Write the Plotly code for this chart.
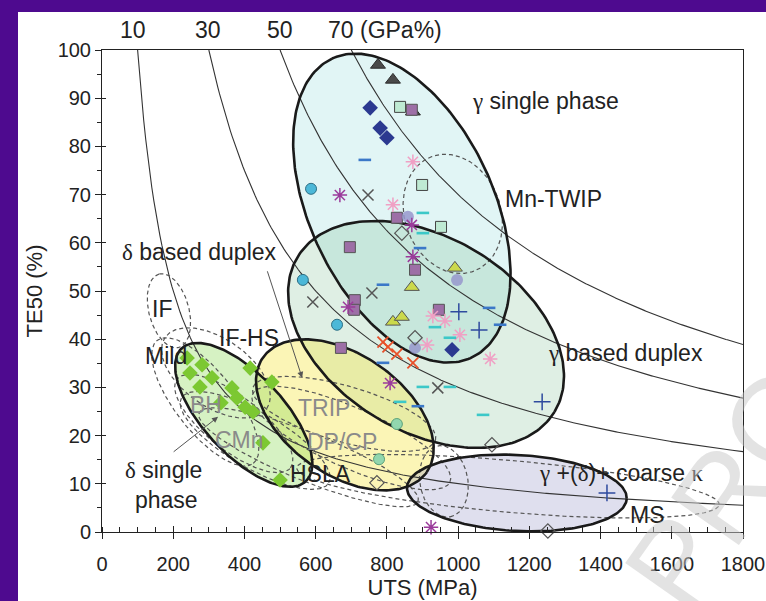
import numpy as np
import plotly.graph_objects as go

# ---------------- data ----------------
X_RANGE = [0, 1800]
Y_RANGE = [0, 100]
x_ticks = [0, 200, 400, 600, 800, 1000, 1200, 1400, 1600, 1800]
y_ticks = [0, 10, 20, 30, 40, 50, 60, 70, 80, 90, 100]
iso_gpa_pct = [10, 30, 50, 70]          # UTS x TE50 = const (GPa%)
iso_labels = ["10", "30", "50", "70 (GPa%)"]

navy_diamond_uts = [753, 781, 800, 983]
navy_diamond_te = [88.0, 83.8, 81.8, 37.8]
dark_tri_uts = [775, 817, 873]
dark_tri_te = [96.9, 93.8, 87.2]
green_sq_uts = [837, 899, 952]
green_sq_te = [88.2, 72.0, 63.3]
purple_sq_uts = [870, 828, 696, 879, 710, 708, 946, 671]
purple_sq_te = [87.6, 65.2, 59.1, 54.4, 48.1, 46.1, 46.1, 38.2]
cyan_circ_uts = [587, 564, 660]
cyan_circ_te = [71.2, 52.3, 43.0]
lav_circ_uts = [859, 997, 879]
lav_circ_te = [65.4, 52.3, 38.2]
green_circ_uts = [828, 778]
green_circ_te = [22.4, 15.1]
yellow_tri_uts = [991, 870, 817, 842]
yellow_tri_te = [54.8, 50.8, 43.6, 44.6]
pink_ast_uts = [873, 817, 929, 963, 1005, 913, 1090]
pink_ast_te = [76.8, 67.9, 44.8, 43.8, 40.9, 38.8, 35.9]
purple_ast_uts = [668, 870, 873, 691, 809, 924]
purple_ast_te = [69.9, 63.7, 57.1, 46.7, 30.9, 1.0]
gray_x_uts = [747, 592, 758, 943]
gray_x_te = [69.9, 47.7, 49.6, 29.9]
red_x_uts = [789, 803, 828, 873]
red_x_te = [39.4, 38.4, 36.9, 35.1]
blue_dash_uts = [738, 893, 789, 1087, 1118, 789, 887]
blue_dash_te = [77.2, 58.9, 51.3, 46.5, 43.0, 35.1, 26.1]
teal_dash_uts = [901, 901, 935, 977, 901, 977, 837, 1070]
teal_dash_te = [66.2, 62.0, 42.5, 40.3, 30.1, 30.1, 27.0, 24.3]
blue_plus_uts = [1002, 1059, 1236, 1418]
blue_plus_te = [45.7, 41.9, 27.0, 8.1]
open_diamond_uts = [842, 879, 1095, 772, 1252]
open_diamond_te = [62.0, 40.3, 18.1, 10.2, 0.2]
green_diamond_uts = [239, 281, 247, 309, 275, 365, 379, 334, 416, 402, 424, 477, 452, 500]
green_diamond_te = [36.1, 34.7, 33.0, 32.0, 30.1, 29.9, 27.8, 26.8, 34.0, 25.9, 24.9, 31.1, 18.5, 10.8]

# ---------------- layout geometry ----------------
W, H = 766, 601
ML, MR, MT, MB = 102, 23, 50, 69
PW, PH = W - ML - MR, H - MT - MB
PX_PER_UTS = PW / (X_RANGE[1] - X_RANGE[0])
PX_PER_TE = PH / (Y_RANGE[1] - Y_RANGE[0])


def ellipse(cx, cy, a, b, theta_deg, n=240):
    """Ellipse centred at data (cx, cy); semi-axes a, b in screen px; rotation in degrees."""
    t = np.linspace(0, 2 * np.pi, n)
    th = np.radians(theta_deg)
    dx = a * np.cos(t) * np.cos(th) - b * np.sin(t) * np.sin(th)
    dy = a * np.cos(t) * np.sin(th) + b * np.sin(t) * np.cos(th)
    return cx + dx / PX_PER_UTS, cy + dy / PX_PER_TE


# filled regions: centre (UTS, TE), a, b (px), angle, fill
regions = [
    ((842, 67.2), 165, 92, 115, "rgba(120,210,210,0.22)"),   # gamma single phase
    ((910, 41.0), 150, 97, -31, "rgba(110,180,130,0.22)"),   # gamma based duplex
    ((682, 24.3), 100, 60, -35, "rgba(245,230,80,0.42)"),    # TRIP / yellow
    ((398, 24.3), 91, 40, -47, "rgba(140,220,90,0.36)"),     # delta single phase
    ((1165, 8.1), 110, 38, -3, "rgba(150,150,200,0.30)"),    # gamma + delta + kappa
]
# dashed conventional steel regions
dashed = [
    ((985, 66.0), 61, 48, 110),     # Mn-TWIP
    ((188, 45.9), 38, 20, 105),     # IF
    ((320, 33.0), 62, 34, -35),     # IF-HS
    ((290, 27.0), 78, 30, -52),     # Mild
    ((370, 22.5), 72, 27, -38),     # BH
    ((430, 19.0), 85, 28, -30),     # CMn
    ((580, 15.5), 118, 24, -22),    # HSLA
    ((680, 24.5), 95, 28, -16),     # TRIP
    ((700, 19.5), 108, 30, -24),    # DP/CP
    ((1140, 9.5), 212, 26, -5),     # MS
    ((960, 10.5), 36, 24, -80),     # small one
]

fig = go.Figure()

for (c, a, b, ang, fill) in regions:
    ex, ey = ellipse(c[0], c[1], a, b, ang)
    fig.add_trace(go.Scatter(x=ex, y=ey, mode="lines", fill="toself", fillcolor=fill,
                             line=dict(width=0), hoverinfo="skip", showlegend=False))

# iso-product lines
for c in iso_gpa_pct:
    ux = np.linspace(c * 10, X_RANGE[1], 300)
    fig.add_trace(go.Scatter(x=ux, y=c * 1000 / ux, mode="lines",
                             line=dict(color="#333333", width=1.1),
                             hoverinfo="skip", showlegend=False))

for (c, a, b, ang) in dashed:
    ex, ey = ellipse(c[0], c[1], a, b, ang)
    fig.add_trace(go.Scatter(x=ex, y=ey, mode="lines",
                             line=dict(color="#555555", width=1.2, dash="4px,3px"),
                             hoverinfo="skip", showlegend=False, cliponaxis=False))

for (c, a, b, ang, fill) in regions:
    ex, ey = ellipse(c[0], c[1], a, b, ang)
    fig.add_trace(go.Scatter(x=ex, y=ey, mode="lines",
                             line=dict(color="#1a1a1a", width=2.6),
                             hoverinfo="skip", showlegend=False, cliponaxis=False))


def pts(xs, ys, symbol, size, color, lcolor, lwidth):
    fig.add_trace(go.Scatter(x=xs, y=ys, mode="markers", cliponaxis=False, showlegend=False,
                             marker=dict(symbol=symbol, size=size, color=color,
                                         line=dict(color=lcolor, width=lwidth))))


pts(green_diamond_uts, green_diamond_te, "diamond", 12, "#7cc832", "#7cc832", 0)
pts(dark_tri_uts, dark_tri_te, "triangle-up", 13, "#4a4a4a", "#2a2a2a", 1)
pts(green_sq_uts, green_sq_te, "square", 11, "#bfead3", "#444444", 1)
pts(purple_sq_uts, purple_sq_te, "square", 11, "#9d6fa6", "#555555", 1)
pts(navy_diamond_uts, navy_diamond_te, "diamond", 12, "#2b3990", "#2b3990", 0)
pts(cyan_circ_uts, cyan_circ_te, "circle", 11, "#4cb8d8", "#2d6f85", 1)
pts(lav_circ_uts, lav_circ_te, "circle", 12, "rgba(150,150,205,0.85)", "rgba(150,150,205,0.85)", 0)
pts(green_circ_uts, green_circ_te, "circle", 11, "#92d6ae", "#5aa27a", 1)
pts(yellow_tri_uts, yellow_tri_te, "triangle-up", 13, "#cbd94c", "#555555", 1)
pts(open_diamond_uts, open_diamond_te, "diamond-open", 11, "#555555", "#555555", 1.2)
pts(pink_ast_uts, pink_ast_te, "asterisk-open", 12, "#f0a0c4", "#f0a0c4", 1.5)
pts(purple_ast_uts, purple_ast_te, "asterisk-open", 12, "#9b3b9b", "#9b3b9b", 1.5)
pts(gray_x_uts, gray_x_te, "x-thin-open", 11, "#555555", "#555555", 1.5)
pts(red_x_uts, red_x_te, "x-thin-open", 11, "#e8502a", "#e8502a", 1.8)
pts(blue_dash_uts, blue_dash_te, "line-ew-open", 9, "#3b78c8", "#3b78c8", 2.6)
pts(teal_dash_uts, teal_dash_te, "line-ew-open", 9, "#3cc8c8", "#3cc8c8", 2.6)
pts(blue_plus_uts, blue_plus_te, "cross-thin-open", 12, "#2e4a9e", "#2e4a9e", 1.5)

FONT = "Liberation Sans, Arial, sans-serif"
SERIF = "Liberation Serif, Times New Roman, serif"
DARK = "#222222"
GRAY = "#8a8a8a"
LBL = 23


def g(s):
    return f'<span style="font-family:{SERIF}">{s}</span>'


labels = [
    (g("γ") + " single phase", 1033, 89.4, DARK),
    ("Mn-TWIP", 1126, 69.1, DARK),
    (g("δ") + " based duplex", 51, 58.1, DARK),
    (g("γ") + " based duplex", 1247, 37.1, DARK),
    ("IF", 135, 46.3, DARK),
    ("IF-HS", 323, 40.3, DARK),
    ("Mild", 115, 36.5, DARK),
    ("BH", 241, 26.4, GRAY),
    ("CMn", 312, 19.1, GRAY),
    ("TRIP", 545, 25.7, GRAY),
    ("DP/CP", 570, 18.7, GRAY),
    ("HSLA", 522, 12.0, DARK),
    (g("δ") + " single", 59, 12.9, DARK),
    ("phase", 87, 6.6, DARK),
    (g("γ") + " +(" + g("δ") + ")+ coarse " + g("κ"), 1221, 12.2, DARK),
    ("MS", 1477, 3.5, DARK),
]
annotations = []
for txt, ux, ty, col in labels:
    annotations.append(dict(text=txt, x=ux, y=ty, xref="x", yref="y", xanchor="left",
                            yanchor="middle", showarrow=False,
                            font=dict(family=FONT, size=LBL, color=col)))

# iso-line labels along the top
iso_label_x = [87, 298, 500, 629]
for i, (txt, ux) in enumerate(zip(iso_labels, iso_label_x)):
    annotations.append(dict(text=txt, x=ux, y=1.041, xref="x", yref="paper",
                            xanchor="left" if i == 3 else "center", yanchor="middle",
                            showarrow=False, font=dict(family=FONT, size=LBL, color=DARK)))

# arrows
for (tx, ty, hx, hy) in [(463, 54.4, 562, 32.0), (197, 16.4, 326, 23.9)]:
    annotations.append(dict(x=hx, y=hy, ax=tx, ay=ty, xref="x", yref="y", axref="x", ayref="y",
                            text="", showarrow=True, arrowhead=2, arrowsize=1.2,
                            arrowwidth=1, arrowcolor="#555555"))

# watermark (mostly outside the visible page)
annotations.append(dict(text="PROOF", x=(775 - ML) / PW, y=(H - MB - 420) / PH,
                        xref="paper", yref="paper", xanchor="center", yanchor="middle",
                        showarrow=False, textangle=-55,
                        font=dict(family=FONT, size=120, color="rgba(200,200,200,0.5)")))

shapes = [dict(type="rect", xref="paper", yref="paper", x0=(18 - ML) / PW, x1=1.2,
               y0=-0.3, y1=(H - MB - 12) / PH, fillcolor="white", line=dict(width=0),
               layer="below")]

tick_font = dict(family=FONT, size=20, color=DARK)
title_font = dict(family=FONT, size=22, color=DARK)
fig.update_layout(
    width=W, height=H, margin=dict(l=ML, r=MR, t=MT, b=MB, autoexpand=False),
    paper_bgcolor="#4e0a8f", plot_bgcolor="rgba(0,0,0,0)",
    shapes=shapes, annotations=annotations, showlegend=False,
    xaxis=dict(range=X_RANGE, tickvals=x_ticks, ticks="outside", ticklen=6, tickwidth=1,
               tickcolor="#222", showline=True, linecolor="#222", linewidth=1, mirror=True,
               showgrid=False, zeroline=False, tickfont=tick_font, ticklabelstandoff=8,
               automargin=False,
               minor=dict(dtick=50, ticks="inside", ticklen=5, tickcolor="#222", showgrid=False),
               title=dict(text="UTS (MPa)", font=title_font, standoff=4)),
    yaxis=dict(range=Y_RANGE, tickvals=y_ticks, ticks="outside", ticklen=6, tickwidth=1,
               tickcolor="#222", showline=True, linecolor="#222", linewidth=1, mirror=True,
               showgrid=False, zeroline=False, tickfont=tick_font, automargin=False,
               minor=dict(dtick=5, ticks="outside", ticklen=4, tickcolor="#222", showgrid=False),
               title=dict(text="TE50 (%)", font=title_font, standoff=8)),
    xaxis2=dict(range=X_RANGE, overlaying="x", tickvals=x_ticks, ticks="inside", ticklen=6,
                tickcolor="#222", showticklabels=False, showgrid=False, zeroline=False,
                showline=False, matches="x", automargin=False),
    yaxis2=dict(range=Y_RANGE, overlaying="y", tickvals=y_ticks, ticks="inside", ticklen=4,
                tickcolor="#222", showticklabels=False, showgrid=False, zeroline=False,
                showline=False, matches="y", automargin=False),
)
fig.add_trace(go.Scatter(x=[None], y=[None], xaxis="x2", yaxis="y2", showlegend=False))

fig.write_html("out.html")
